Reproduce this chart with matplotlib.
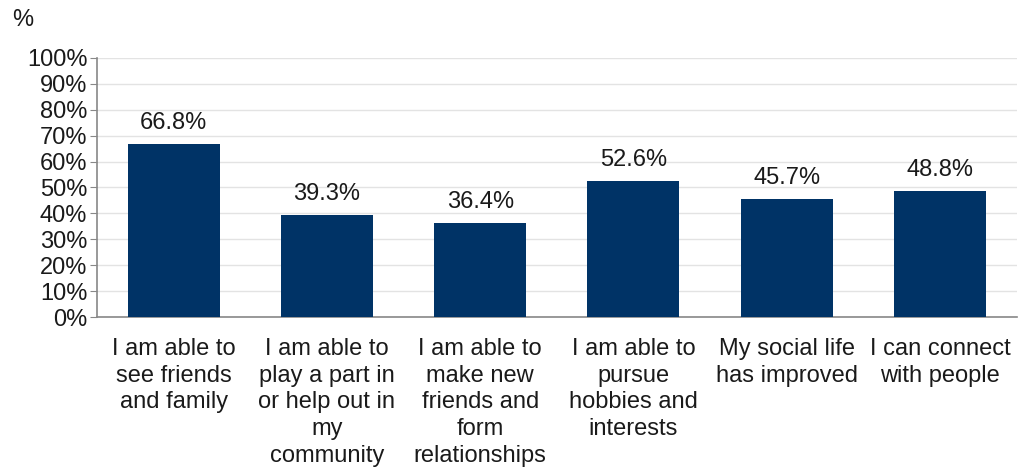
import matplotlib.pyplot as plt
from matplotlib.ticker import FuncFormatter

plt.rcParams['font.family'] = ['Liberation Sans', 'DejaVu Sans']

categories = [
    "I am able to\nsee friends\nand family",
    "I am able to\nplay a part in\nor help out in\nmy\ncommunity",
    "I am able to\nmake new\nfriends and\nform\nrelationships",
    "I am able to\npursue\nhobbies and\ninterests",
    "My social life\nhas improved",
    "I can connect\nwith people",
]
values = [66.8, 39.3, 36.4, 52.6, 45.7, 48.8]
yticks = list(range(0, 101, 10))

fig = plt.figure(figsize=(10.29, 4.73), dpi=100)
ax = fig.add_axes([0.0943, 0.3298, 0.8937, 0.5476])

x = range(len(categories))
bars = ax.bar(x, values, width=0.6, color='#003366', zorder=3)

for xi, v in zip(x, values):
    ax.annotate(f"{v:.1f}%", (xi, v), xytext=(0, 7), textcoords='offset points',
                ha='center', va='bottom', fontsize=17, color='#1a1a1a')

ax.set_xlim(-0.5, len(categories) - 0.5)
ax.set_ylim(0, 100)
ax.set_yticks(yticks)
ax.yaxis.set_major_formatter(FuncFormatter(lambda v, _: f"{v:.0f}%"))
ax.set_xticks(list(x))
ax.set_xticklabels(categories, fontsize=17, linespacing=1.28, va='top')
ax.tick_params(axis='y', labelsize=17, length=5, color='#888888', pad=2, labelcolor='#1a1a1a')
ax.tick_params(axis='x', length=0, pad=15, labelcolor='#1a1a1a')

ax.grid(axis='y', color='#e3e3e3', linewidth=1, zorder=0)
for side in ['top', 'right']:
    ax.spines[side].set_visible(False)
for side in ['left', 'bottom']:
    ax.spines[side].set_color('#888888')
    ax.spines[side].set_linewidth(1.2)

fig.text(0.012, 0.98, "%", fontsize=17, ha='left', va='top', color='#1a1a1a')

fig.savefig('out.png', dpi=100)
